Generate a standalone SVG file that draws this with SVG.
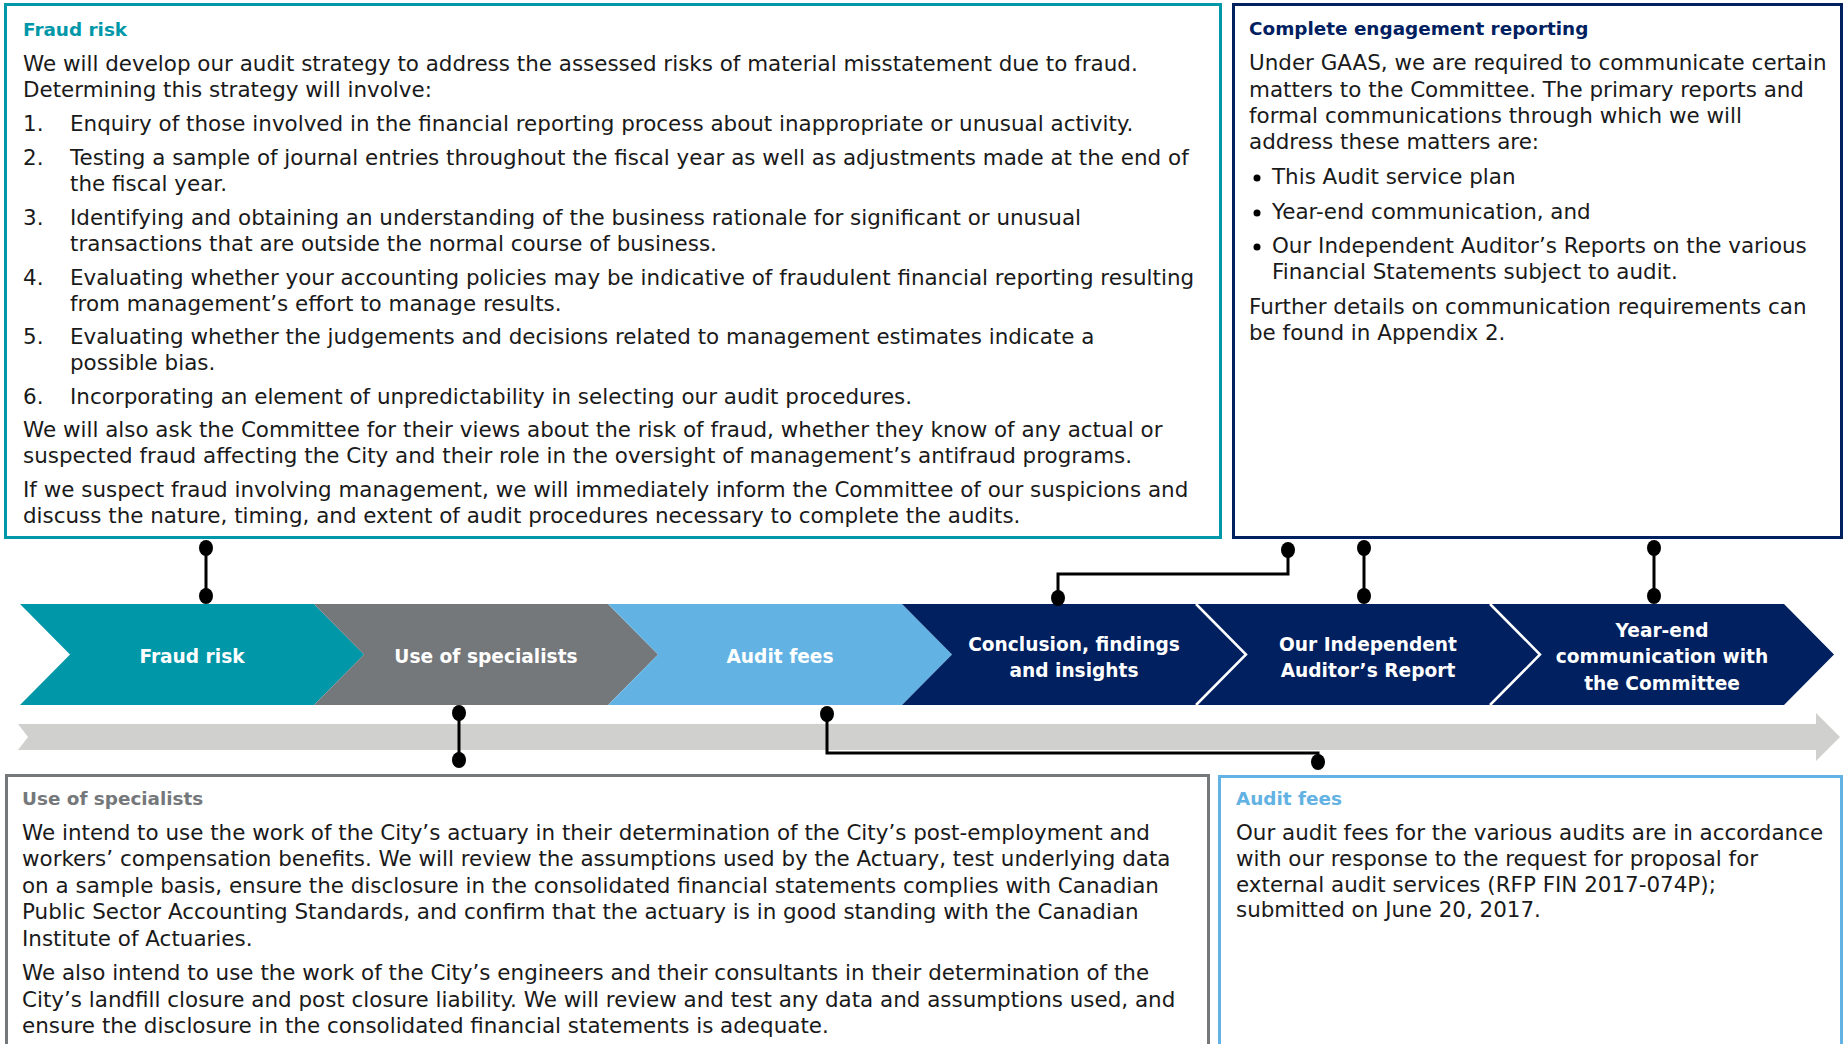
<svg xmlns="http://www.w3.org/2000/svg" width="1845" height="1044" viewBox="0 0 1845 1044">
<defs>
<style>
.body{font-family:"DejaVu Sans","Liberation Sans",sans-serif;font-size:21.45px;fill:#1a1a1a}
.ttl{font-family:"DejaVu Sans","Liberation Sans",sans-serif;font-size:18.4px;font-weight:bold}
.chv{font-family:"DejaVu Sans","Liberation Sans",sans-serif;font-size:18.6px;font-weight:bold;fill:#ffffff;text-anchor:middle}
.box{fill:#ffffff;stroke-width:3}
.con{fill:none;stroke:#000000;stroke-width:3}
.dot{fill:#000000}
</style>
</defs>
<rect width="1845" height="1044" fill="#ffffff"/>

<g id="box-fraud">
<rect class="box" x="5.5" y="4.5" width="1215" height="533" stroke="#0097A9"/>
<text class="ttl" x="23" y="36" fill="#0097A9">Fraud risk</text>
<text class="body" x="23" y="71">We will develop our audit strategy to address the assessed risks of material misstatement due to fraud.</text>
<text class="body" x="23" y="97">Determining this strategy will involve:</text>
<text class="body" x="23" y="131">1.</text><text class="body" x="70" y="131">Enquiry of those involved in the financial reporting process about inappropriate or unusual activity.</text>
<text class="body" x="23" y="165">2.</text><text class="body" x="70" y="165">Testing a sample of journal entries throughout the fiscal year as well as adjustments made at the end of</text>
<text class="body" x="70" y="191">the fiscal year.</text>
<text class="body" x="23" y="225">3.</text><text class="body" x="70" y="225">Identifying and obtaining an understanding of the business rationale for significant or unusual</text>
<text class="body" x="70" y="251">transactions that are outside the normal course of business.</text>
<text class="body" x="23" y="285">4.</text><text class="body" x="70" y="285">Evaluating whether your accounting policies may be indicative of fraudulent financial reporting resulting</text>
<text class="body" x="70" y="311">from management’s effort to manage results.</text>
<text class="body" x="23" y="344">5.</text><text class="body" x="70" y="344">Evaluating whether the judgements and decisions related to management estimates indicate a</text>
<text class="body" x="70" y="370">possible bias.</text>
<text class="body" x="23" y="404">6.</text><text class="body" x="70" y="404">Incorporating an element of unpredictability in selecting our audit procedures.</text>
<text class="body" x="23" y="437">We will also ask the Committee for their views about the risk of fraud, whether they know of any actual or</text>
<text class="body" x="23" y="463">suspected fraud affecting the City and their role in the oversight of management’s antifraud programs.</text>
<text class="body" x="23" y="497">If we suspect fraud involving management, we will immediately inform the Committee of our suspicions and</text>
<text class="body" x="23" y="523">discuss the nature, timing, and extent of audit procedures necessary to complete the audits.</text>
</g>

<g id="box-reporting">
<rect class="box" x="1233.5" y="4.5" width="608" height="533" stroke="#00205F"/>
<text class="ttl" x="1249" y="35" fill="#00205F">Complete engagement reporting</text>
<text class="body" x="1249" y="70">Under GAAS, we are required to communicate certain</text>
<text class="body" x="1249" y="97">matters to the Committee. The primary reports and</text>
<text class="body" x="1249" y="123">formal communications through which we will</text>
<text class="body" x="1249" y="149">address these matters are:</text>
<circle class="dot" cx="1257" cy="178" r="3.5"/><text class="body" x="1272" y="184">This Audit service plan</text>
<circle class="dot" cx="1257" cy="213" r="3.5"/><text class="body" x="1272" y="219">Year-end communication, and</text>
<circle class="dot" cx="1257" cy="247" r="3.5"/><text class="body" x="1272" y="253">Our Independent Auditor’s Reports on the various</text>
<text class="body" x="1272" y="279">Financial Statements subject to audit.</text>
<text class="body" x="1249" y="314">Further details on communication requirements can</text>
<text class="body" x="1249" y="340">be found in Appendix 2.</text>
</g>

<g id="box-specialists">
<rect class="box" x="6.5" y="775.5" width="1202" height="300" stroke="#75787B"/>
<text class="ttl" x="22" y="805" fill="#75787B">Use of specialists</text>
<text class="body" x="22" y="840">We intend to use the work of the City’s actuary in their determination of the City’s post-employment and</text>
<text class="body" x="22" y="866">workers’ compensation benefits. We will review the assumptions used by the Actuary, test underlying data</text>
<text class="body" x="22" y="893">on a sample basis, ensure the disclosure in the consolidated financial statements complies with Canadian</text>
<text class="body" x="22" y="919">Public Sector Accounting Standards, and confirm that the actuary is in good standing with the Canadian</text>
<text class="body" x="22" y="946">Institute of Actuaries.</text>
<text class="body" x="22" y="980">We also intend to use the work of the City’s engineers and their consultants in their determination of the</text>
<text class="body" x="22" y="1007">City’s landfill closure and post closure liability. We will review and test any data and assumptions used, and</text>
<text class="body" x="22" y="1033">ensure the disclosure in the consolidated financial statements is adequate.</text>
</g>

<g id="box-fees">
<rect class="box" x="1219.5" y="776.5" width="622" height="300" stroke="#62B2E3"/>
<text class="ttl" x="1236" y="805" fill="#62B2E3">Audit fees</text>
<text class="body" x="1236" y="840">Our audit fees for the various audits are in accordance</text>
<text class="body" x="1236" y="866">with our response to the request for proposal for</text>
<text class="body" x="1236" y="892">external audit services (RFP FIN 2017-074P);</text>
<text class="body" x="1236" y="917">submitted on June 20, 2017.</text>
</g>

<g id="timeline">
<polygon points="18,724 1816,724 1816,713 1840,737 1816,761 1816,750 18,750 28,737" fill="#D0D0CE"/>
</g>

<g id="step-fraud">
<polygon points="20,604 314,604 364,654.5 314,705 20,705 70,654.5" fill="#0097A9"/>
<text class="chv" x="192" y="663">Fraud risk</text>
</g>
<g id="step-specialists">
<polygon points="314,604 608,604 658,654.5 608,705 314,705 364,654.5" fill="#75787B"/>
<text class="chv" x="486" y="663">Use of specialists</text>
</g>
<g id="step-fees">
<polygon points="608,604 902,604 952,654.5 902,705 608,705 658,654.5" fill="#62B2E3"/>
<text class="chv" x="780" y="663">Audit fees</text>
</g>
<g id="step-conclusion">
<polygon points="902,604 1196,604 1246,654.5 1196,705 902,705 952,654.5" fill="#00205F"/>
<text class="chv" x="1074" y="651">Conclusion, findings</text>
<text class="chv" x="1074" y="677">and insights</text>
</g>
<g id="step-report">
<polygon points="1196,604 1490,604 1540,654.5 1490,705 1196,705 1246,654.5" fill="#00205F"/>
<polyline points="1196,604 1246,654.5 1196,705" fill="none" stroke="#ffffff" stroke-width="2.5"/>
<text class="chv" x="1368" y="651">Our Independent</text>
<text class="chv" x="1368" y="677">Auditor’s Report</text>
</g>
<g id="step-yearend">
<polygon points="1490,604 1784,604 1834,654.5 1784,705 1490,705 1540,654.5" fill="#00205F"/>
<polyline points="1490,604 1540,654.5 1490,705" fill="none" stroke="#ffffff" stroke-width="2.5"/>
<text class="chv" x="1662" y="637">Year-end</text>
<text class="chv" x="1662" y="663">communication with</text>
<text class="chv" x="1662" y="690">the Committee</text>
</g>

<g id="connectors">
<line class="con" x1="206" y1="548" x2="206" y2="596"/>
<ellipse class="dot" cx="206" cy="548" rx="7" ry="8"/>
<ellipse class="dot" cx="206" cy="596" rx="7" ry="8"/>

<polyline class="con" points="1288,550 1288,574 1058,574 1058,598"/>
<ellipse class="dot" cx="1288" cy="550" rx="7" ry="8"/>
<ellipse class="dot" cx="1058" cy="598" rx="7" ry="8"/>

<line class="con" x1="1364" y1="548" x2="1364" y2="596"/>
<ellipse class="dot" cx="1364" cy="548" rx="7" ry="8"/>
<ellipse class="dot" cx="1364" cy="596" rx="7" ry="8"/>

<line class="con" x1="1654" y1="548" x2="1654" y2="596"/>
<ellipse class="dot" cx="1654" cy="548" rx="7" ry="8"/>
<ellipse class="dot" cx="1654" cy="596" rx="7" ry="8"/>

<line class="con" x1="459" y1="713" x2="459" y2="760"/>
<ellipse class="dot" cx="459" cy="713" rx="7" ry="8"/>
<ellipse class="dot" cx="459" cy="760" rx="7" ry="8"/>

<polyline class="con" points="827,714 827,753 1318,753 1318,762"/>
<ellipse class="dot" cx="827" cy="714" rx="7" ry="8"/>
<ellipse class="dot" cx="1318" cy="762" rx="7" ry="8"/>
</g>
</svg>
